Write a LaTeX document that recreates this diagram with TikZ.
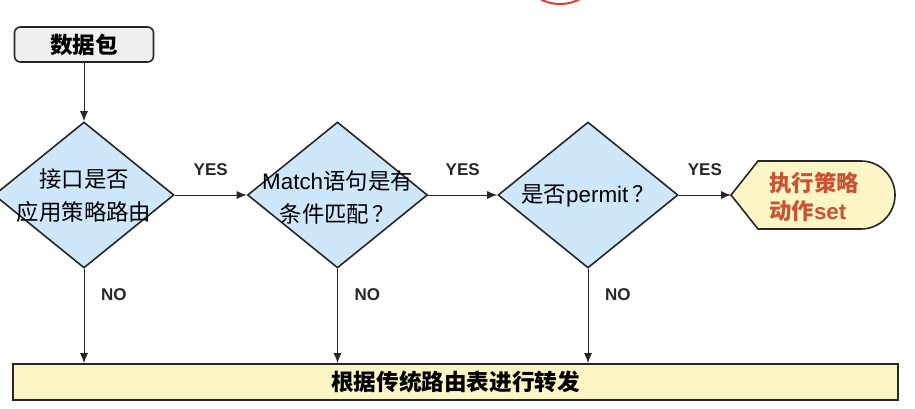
\documentclass[tikz,border=0pt]{standalone}
\usepackage{fontspec}
\setmainfont{Noto Sans CJK SC}
\newfontfamily\latin{Liberation Sans}
\usetikzlibrary{shapes.geometric, arrows.meta}
\definecolor{diablue}{HTML}{CFE7FA}
\definecolor{paleyel}{HTML}{FCF6C6}
\definecolor{actred}{HTML}{CC5234}
\definecolor{markred}{HTML}{E23A2E}
\definecolor{boxgray}{HTML}{F0F0F0}

\begin{document}
\begin{tikzpicture}[x=0.5pt, y=-0.5pt, >={Latex[length=5pt,width=4pt]},
  dia/.style={diamond, draw=black!85, line width=0.8pt, fill=diablue,
    minimum width=90pt, minimum height=73pt, inner sep=0pt},
  txt/.style={font=\fontsize{11.2}{16.5}\selectfont, align=center},
  yesno/.style={font=\latin\bfseries\fontsize{8.5}{10}\selectfont},
  flow/.style={->, line width=0.5pt, black!85}]
  \useasboundingbox (0,0) rectangle (915,408);
  % red mark at the top edge
  \draw[markred, line width=1pt] (560,-16) ellipse [x radius=15pt, y radius=10pt];
  % start
  \node[draw=black!85, line width=0.8pt, fill=boxgray, rounded corners=3pt,
    minimum width=69.5pt, minimum height=17.5pt, inner sep=0pt,
    font=\bfseries\fontsize{11.3}{13}\selectfont] (start) at (84,44.5) {数据包};
  % decisions
  \node[dia] (d1) at (84,195) {};
  \node[txt] (d1text) at (84,196) {接口是否\\应用策略路由};
  \node[dia] (d2) at (337.5,195) {};
  \node[txt] (d2text) at (337.5,197) {{\latin Match}语句是有\\条件匹配\,？};
  \node[dia] (d3) at (588,195) {};
  \node[txt] (d3text) at (588,196) {是否{\latin permit}\,？};
  % action (pointed left, round right)
  \draw[draw=black!85, line width=0.8pt, fill=paleyel]
    (731,195) -- (758,161) -- (861,161) arc[start angle=90, end angle=-90, radius=17pt]
    -- (758,229) -- cycle;
  \coordinate (act) at (731,195);
  \node[txt, align=left, text=actred, font=\bfseries\fontsize{11.2}{14}\selectfont]
    (acttext) at (814,197) {执行策略\\动作{\latin set}};
  % normal forwarding
  \node[draw=black!85, line width=0.9pt, fill=paleyel, minimum width=442.5pt,
    minimum height=18pt, inner sep=0pt, font=\bfseries\fontsize{11.3}{13}\selectfont]
    (bar) at (455.5,382) {根据传统路由表进行转发};
  % connectors
  \draw[flow] (start) -- (d1);
  \draw[flow] (d1) -- (d2) node[yesno, midway, above=6pt] {YES};
  \draw[flow] (d2) -- (d3) node[yesno, midway, above=6pt] {YES};
  \draw[flow] (d3) -- (act) node[yesno, midway, above=6pt] {YES};
  \draw[flow] (d1) -- (d1 |- bar.north) node[yesno, pos=0.27, right=5pt] {NO};
  \draw[flow] (d2) -- (d2 |- bar.north) node[yesno, pos=0.27, right=5pt] {NO};
  \draw[flow] (d3) -- (d3 |- bar.north) node[yesno, pos=0.27, right=5pt] {NO};
\end{tikzpicture}
\end{document}
